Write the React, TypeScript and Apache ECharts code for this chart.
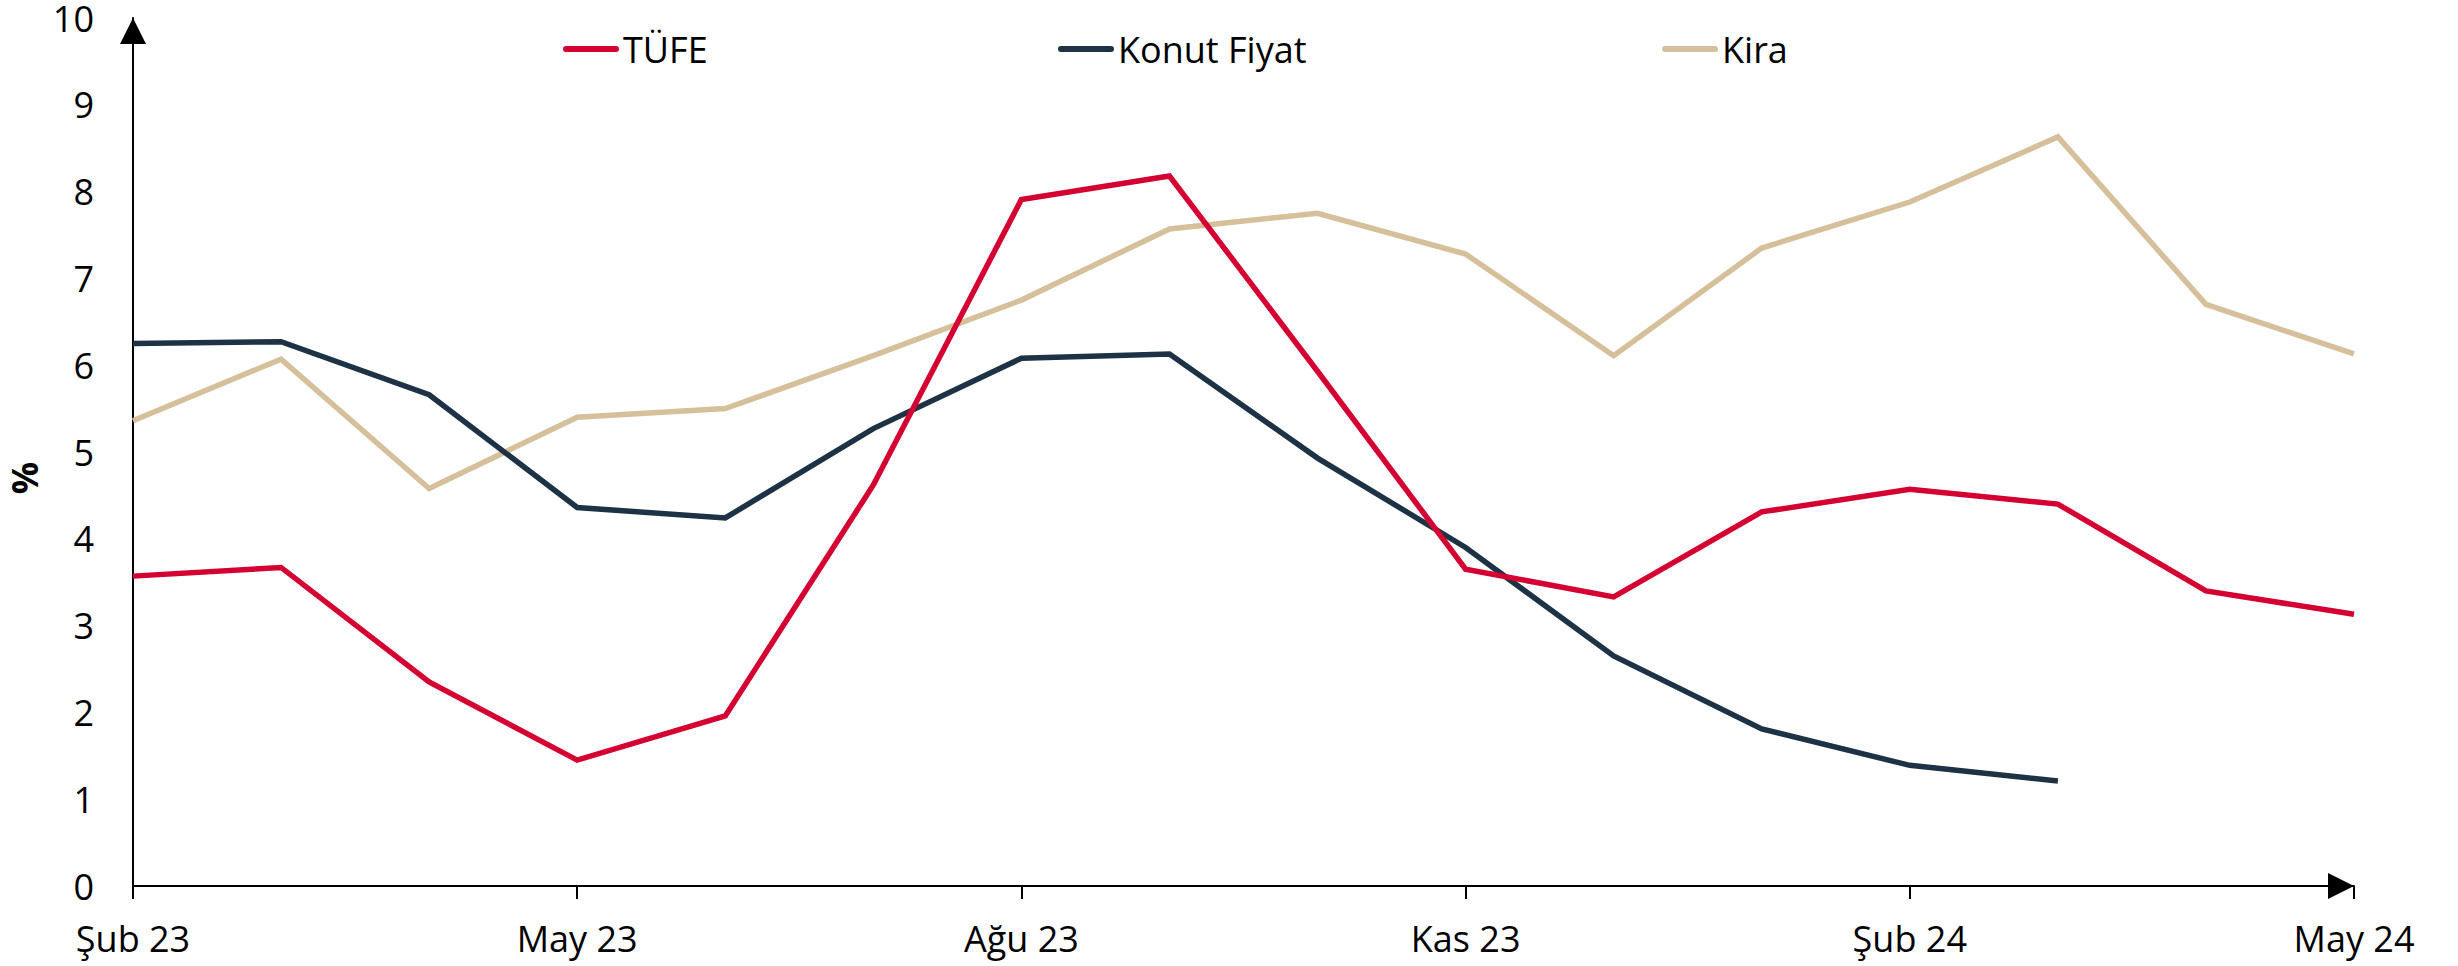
import React, { useEffect, useRef } from "react";
import * as echarts from "echarts";

const months = [
  "Şub 23", "Mar 23", "Nis 23", "May 23", "Haz 23", "Tem 23", "Ağu 23", "Eyl 23",
  "Eki 23", "Kas 23", "Ara 23", "Oca 24", "Şub 24", "Mar 24", "Nis 24", "May 24",
];
const tufe = [3.57, 3.67, 2.35, 1.45, 1.96, 4.62, 7.91, 8.18, 5.93, 3.65, 3.33, 4.31, 4.57, 4.4, 3.4, 3.13];
const konut = [6.25, 6.27, 5.66, 4.36, 4.24, 5.27, 6.08, 6.13, 4.93, 3.9, 2.65, 1.81, 1.39, 1.21, null, null];
const kira = [5.36, 6.07, 4.58, 5.4, 5.5, 6.11, 6.75, 7.57, 7.75, 7.28, 6.11, 7.35, 7.88, 8.63, 6.7, 6.13];

const seriesNames = ["TÜFE", "Konut Fiyat", "Kira"];
const seriesColors = ["#D50032", "#1E3246", "#D6C09C"];
const legendLefts = [563, 1058, 1662];

const FONT = "'Open Sans', 'Noto Sans', sans-serif";
const ICON = "path://M3,0 L53,0 A3,3 0 0 1 53,6 L3,6 A3,3 0 0 1 3,0 Z";

export default function App() {
  const ref = useRef<HTMLDivElement>(null);
  useEffect(() => {
    document.body.style.margin = "0";
    if (!ref.current) return;
    const chart = echarts.init(ref.current, null, { renderer: "svg" });
    const dataSets = [tufe, konut, kira];
    chart.setOption({
      animation: false,
      textStyle: { fontFamily: FONT },
      grid: { left: 133, right: 104, top: 17, bottom: 80, containLabel: false },
      legend: seriesNames.map((n, i) => ({
        data: [n],
        left: legendLefts[i],
        top: 31,
        padding: 0,
        itemWidth: 56,
        itemHeight: 6,
        icon: ICON,
        textStyle: { fontSize: 36, color: "#000", fontFamily: FONT, padding: [0, 0, 0, -1] },
      })),
      xAxis: {
        type: "category",
        data: months,
        boundaryGap: false,
        axisLine: {
          show: true,
          lineStyle: { color: "#000", width: 2 },
          symbol: ["none", "triangle"],
          symbolSize: [26, 26],
          symbolOffset: [0, -13],
        },
        axisTick: { show: true, interval: 2, length: 13, lineStyle: { color: "#000", width: 2 } },
        axisLabel: { interval: 2, fontSize: 36, color: "#000", margin: 34, fontFamily: FONT },
        splitLine: { show: false },
      },
      yAxis: {
        type: "value",
        min: 0,
        max: 10,
        interval: 1,
        axisLine: {
          show: true,
          lineStyle: { color: "#000", width: 2 },
          symbol: ["none", "triangle"],
          symbolSize: [26, 26],
          symbolOffset: [0, -13],
        },
        axisTick: { show: false },
        axisLabel: { fontSize: 36, lineHeight: 28, color: "#000", margin: 39, fontFamily: FONT },
        splitLine: { show: false },
      },
      graphic: [
        {
          type: "text",
          x: 24,
          y: 478,
          rotation: Math.PI / 2,
          style: {
            text: "%",
            fontSize: 36,
            fontWeight: "bold",
            fontFamily: FONT,
            fill: "#000",
            align: "center",
            verticalAlign: "middle",
          },
        },
      ],
      series: seriesNames.map((n, i) => ({
        name: n,
        type: "line",
        data: dataSets[i],
        symbol: "none",
        showSymbol: false,
        connectNulls: false,
        color: seriesColors[i],
        lineStyle: { color: seriesColors[i], width: 5.5, join: "miter" },
        itemStyle: { color: seriesColors[i] },
        z: 3 - i,
      })),
    });
    return () => chart.dispose();
  }, []);
  return <div ref={ref} style={{ width: 2458, height: 966 }} />;
}
